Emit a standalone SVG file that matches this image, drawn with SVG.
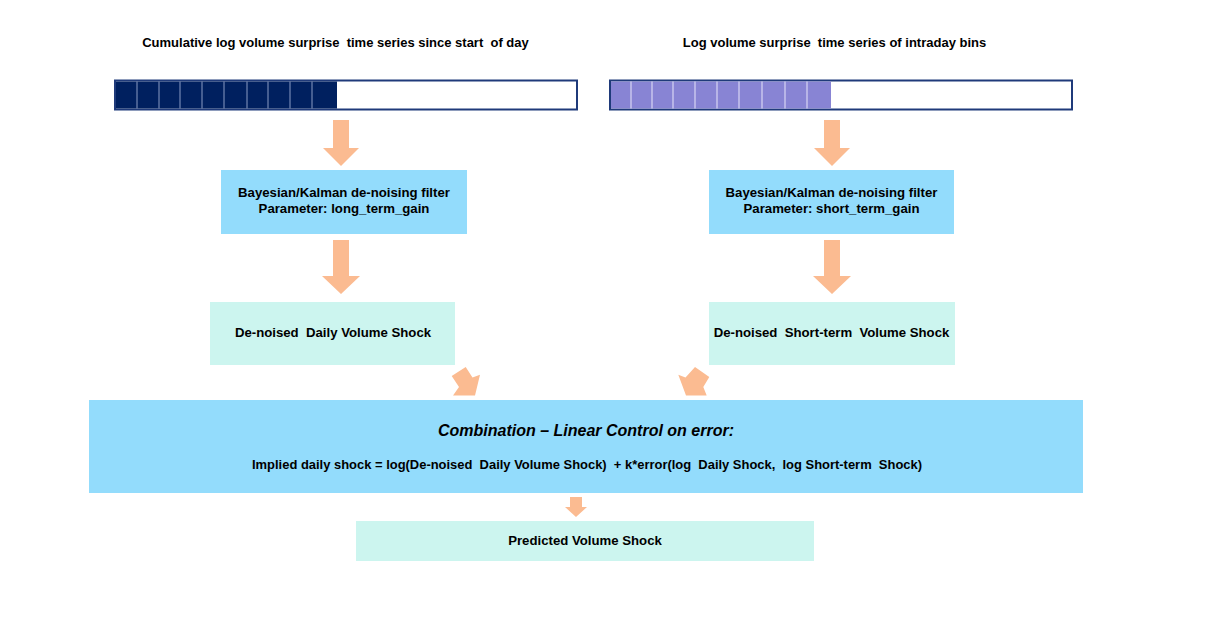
<svg xmlns="http://www.w3.org/2000/svg" width="1227" height="619" viewBox="0 0 1227 619">
<style>
text{font-family:"Liberation Sans",Arial,sans-serif;font-weight:bold;fill:#000;text-anchor:middle;white-space:pre}
.t{font-size:13px}
.n{font-size:13.2px}
.filter{fill:#93dcfc}
.shock{fill:#ccf5ef}
.arrow{fill:#fbbb91}
.bar{fill:#fff;stroke:#1f3a7a;stroke-width:2}
.div1{stroke:#8a9bc4;stroke-width:1}
.div2{stroke:#d8d6f4;stroke-width:1.2}
</style>
<rect width="1227" height="619" fill="#fff"/>
<g id="title-left"><text class="t" x="335.5" y="47" xml:space="preserve">Cumulative log volume surprise  time series since start  of day</text></g>
<g id="title-right"><text class="t" x="834.5" y="47" xml:space="preserve">Log volume surprise  time series of intraday bins</text></g>
<g id="bar-left">
<rect class="bar" x="115" y="80.5" width="462" height="29"/>
<rect x="116" y="81.5" width="221" height="27" fill="#00205f"/>
<g class="div1"><line x1="137" y1="81.5" x2="137" y2="108.5"/><line x1="159" y1="81.5" x2="159" y2="108.5"/><line x1="180" y1="81.5" x2="180" y2="108.5"/><line x1="202" y1="81.5" x2="202" y2="108.5"/><line x1="224" y1="81.5" x2="224" y2="108.5"/><line x1="247" y1="81.5" x2="247" y2="108.5"/><line x1="268" y1="81.5" x2="268" y2="108.5"/><line x1="290" y1="81.5" x2="290" y2="108.5"/><line x1="312" y1="81.5" x2="312" y2="108.5"/></g>
</g>
<g id="bar-right">
<rect class="bar" x="610" y="80.5" width="462" height="29"/>
<rect x="611" y="81.5" width="220" height="27" fill="#8884d4"/>
<g class="div2"><line x1="631" y1="81.5" x2="631" y2="108.5"/><line x1="652" y1="81.5" x2="652" y2="108.5"/><line x1="673" y1="81.5" x2="673" y2="108.5"/><line x1="695" y1="81.5" x2="695" y2="108.5"/><line x1="717" y1="81.5" x2="717" y2="108.5"/><line x1="739" y1="81.5" x2="739" y2="108.5"/><line x1="762" y1="81.5" x2="762" y2="108.5"/><line x1="785" y1="81.5" x2="785" y2="108.5"/><line x1="807" y1="81.5" x2="807" y2="108.5"/></g>
</g>
<g id="filter-left"><rect class="filter" x="221" y="170" width="246" height="64"/><text class="n" x="344" y="197">Bayesian/Kalman de-noising filter</text><text class="n" x="344" y="213">Parameter: long_term_gain</text></g>
<g id="filter-right"><rect class="filter" x="709" y="170" width="245" height="64"/><text class="n" x="831.5" y="197">Bayesian/Kalman de-noising filter</text><text class="n" x="831.5" y="213">Parameter: short_term_gain</text></g>
<g id="shock-left"><rect class="shock" x="210" y="302" width="245" height="63"/><text class="n" x="333" y="337" xml:space="preserve">De-noised  Daily Volume Shock</text></g>
<g id="shock-right"><rect class="shock" x="709" y="302" width="246" height="63"/><text class="n" x="831.5" y="337" xml:space="preserve">De-noised  Short-term  Volume Shock</text></g>
<g id="combination"><rect class="filter" x="89" y="400" width="994" height="93"/><text x="586" y="436" style="font-size:16px;font-style:italic">Combination – Linear Control on error:</text><text x="587" y="469" style="font-size:13px" textLength="670" lengthAdjust="spacingAndGlyphs" xml:space="preserve">Implied daily shock = log(De-noised  Daily Volume Shock)  + k*error(log  Daily Shock,  log Short-term  Shock)</text></g>
<g id="predicted"><rect class="shock" x="356" y="521" width="458" height="40"/><text class="n" x="585" y="545">Predicted Volume Shock</text></g>
<g id="connectors">
<polygon class="arrow" points="333,120 349,120 349,148 359,148 341,166 323,148 333,148"/>
<polygon class="arrow" points="333,240 349,240 349,276 360,276 341,294 322,276 333,276"/>
<polygon class="arrow" points="824,120 840,120 840,148 850,148 832,166 814,148 824,148"/>
<polygon class="arrow" points="824,240 840,240 840,276 851,276 832,294 813,276 824,276"/>
<polygon class="arrow" points="451.7,376 465.7,367 472.5,377.5 480,374.7 475,395.5 453,395.5 459,387"/>
<polygon class="arrow" points="678.3,374.7 685.5,377.5 695,367 709.3,377 703.3,387 706.7,395.5 686,395.5"/>
<polygon class="arrow" points="570,497 582,497 582,507 587,507 576,517 565,507 570,507"/>
</g>
</svg>
